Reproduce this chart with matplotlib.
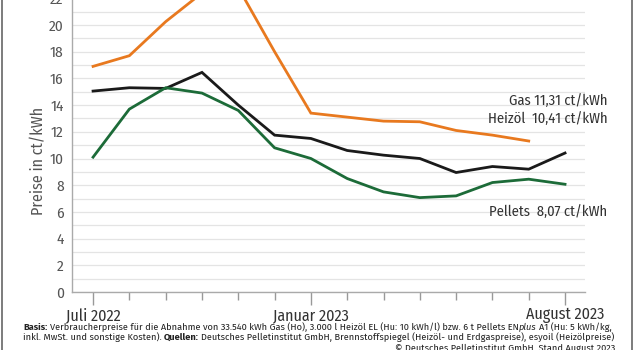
import matplotlib
matplotlib.use("Agg")
import matplotlib.pyplot as plt
from matplotlib import font_manager
from matplotlib.lines import Line2D
from matplotlib.ticker import FixedLocator, MultipleLocator, NullFormatter

# --- data (ct/kWh, monthly, Juli 2022 .. August 2023) ---
months = list(range(14))
tick_labels = {0: "Juli 2022", 6: "Januar 2023", 13: "August 2023"}

gas = [16.9, 17.7, 20.25, 22.4, 22.8, 18.0, 13.4, 13.1, 12.8, 12.75, 12.1, 11.75, 11.31]
heizoel = [15.05, 15.3, 15.25, 16.45, 14.0, 11.75, 11.5, 10.6, 10.25, 10.0, 8.95, 9.4, 9.2, 10.41]
pellets = [10.1, 13.7, 15.3, 14.9, 13.6, 10.8, 10.0, 8.5, 7.5, 7.07, 7.2, 8.2, 8.45, 8.07]

ORANGE = "#e8791f"
BLACK = "#1a1a1a"
GREEN = "#1c6b38"
TXT = "#333333"

installed = {f.name for f in font_manager.fontManager.ttflist}
FONT = next(f for f in ("Fira Sans Condensed", "Roboto Condensed", "Liberation Sans") if f in installed)
FOOT_FONT = next(f for f in ("Fira Sans", "Roboto", "Liberation Sans") if f in installed)
plt.rcParams["font.family"] = [FONT, "DejaVu Sans"]

W, H = 640, 350
fig = plt.figure(figsize=(W / 100, H / 100), dpi=100)

# axes placed in pixel terms: y=0 at 292 px from top, 13.35 px per unit
px_per_unit = 13.35
ymax = 22.3
ax_left, ax_right, ax_bottom = 72, 585, 292
ax = fig.add_axes([ax_left / W, (H - ax_bottom) / H,
                   (ax_right - ax_left) / W, ymax * px_per_unit / H])

ax.plot(months[:len(gas)], gas, color=ORANGE, lw=2.0, solid_joinstyle="miter", zorder=3)
ax.plot(months, heizoel, color=BLACK, lw=2.0, solid_joinstyle="miter", zorder=3)
ax.plot(months, pellets, color=GREEN, lw=2.0, solid_joinstyle="miter", zorder=3)

ax.set_xlim(-0.58, 13.55)
ax.set_ylim(0, ymax)

ax.yaxis.set_major_locator(MultipleLocator(2))
ax.yaxis.set_minor_locator(MultipleLocator(1))
ax.grid(axis="y", which="both", color="#e4e4e4", lw=0.9, zorder=0)
ax.tick_params(axis="y", which="both", length=0, labelsize=11, labelcolor="#555555", pad=6)

ax.xaxis.set_major_locator(FixedLocator(list(tick_labels.keys())))
ax.xaxis.set_minor_locator(FixedLocator([m for m in months if m not in tick_labels]))
ax.set_xticklabels(list(tick_labels.values()))
ax.xaxis.set_minor_formatter(NullFormatter())
ax.tick_params(axis="x", which="major", length=9, width=1.0, color="#999999",
               labelsize=11.5, labelcolor=TXT, pad=2)
ax.tick_params(axis="x", which="minor", length=6, width=1.0, color="#999999")

for side in ("top", "right"):
    ax.spines[side].set_visible(False)
for side in ("left", "bottom"):
    ax.spines[side].set_color("#aaaaaa")
    ax.spines[side].set_linewidth(1.0)

ax.set_ylabel("Preise in ct/kWh", fontsize=11.5, color="#555555")
ax.yaxis.set_label_coords(-0.05, 0.44)

# end labels
lab_kw = dict(ha="right", va="center", fontsize=10.5, color=TXT, clip_on=False)
ax.text(14.16, 14.3, "Gas 11,31 ct/kWh", **lab_kw)
ax.text(14.16, 12.95, "Heizöl  10,41 ct/kWh", **lab_kw)
ax.text(14.16, 6.0, "Pellets  8,07 ct/kWh", **lab_kw)

# frame lines at the image edges
fig.add_artist(Line2D([1.5 / W, 1.5 / W], [0, 1], transform=fig.transFigure, color="#666666", lw=1.2))
fig.add_artist(Line2D([632 / W, 632 / W], [0, 1], transform=fig.transFigure, color="#666666", lw=1.2))

# footer with mixed styles, fitted to the width
footer = [
    (327.5, [("Basis:", "bold", "normal"),
             (" Verbraucherpreise für die Abnahme von 33.540 kWh Gas (Ho), 3.000 l Heizöl EL (Hu: 10 kWh/l) bzw. 6 t Pellets EN", "normal", "normal"),
             ("plus", "normal", "italic"),
             (" A1 (Hu: 5 kWh/kg,", "normal", "normal")], "justify"),
    (337.5, [("inkl. MwSt. und sonstige Kosten).", "normal", "normal"),
             (" Quellen:", "bold", "normal"),
             (" Deutsches Pelletinstitut GmbH, Brennstoffspiegel (Heizöl- und Erdgaspreise), esyoil (Heizölpreise)", "normal", "normal")], "justify"),
    (348.0, [("© Deutsches Pelletinstitut GmbH, Stand August 2023", "normal", "normal")], "right"),
]
x0, x1 = 23, 615

fig.canvas.draw()
renderer = fig.canvas.get_renderer()


def seg_width(s, fs, weight, style):
    t = fig.text(0, 0, s, fontsize=fs, fontweight=weight, fontstyle=style, family=FOOT_FONT)
    w = t.get_window_extent(renderer).width
    t.remove()
    return w


def space_width(fs, weight, style):
    return seg_width("a a", fs, weight, style) - seg_width("aa", fs, weight, style)


def widths(segs, fs):
    out = []
    for s, wt, st in segs:
        core = s.strip()
        n_sp = len(s) - len(s.lstrip()) + len(s) - len(s.rstrip())
        out.append(seg_width(core, fs, wt, st) + n_sp * space_width(fs, wt, st))
    return out


base_fs = 7.0
line_fs = []
for y, segs, mode in footer:
    total = sum(widths(segs, base_fs))
    line_fs.append(base_fs * (x1 - x0) / total)
fs_foot = min(line_fs[:2])

for y, segs, mode in footer:
    ws = widths(segs, fs_foot)
    total = sum(ws)
    x = x1 - total if mode == "right" else x0
    for (s, wt, st), w in zip(segs, ws):
        lead = len(s) - len(s.lstrip())
        xs = x + lead * space_width(fs_foot, wt, st)
        fig.text(xs / W, 1 - y / H, s.strip(), fontsize=fs_foot, fontweight=wt,
                 fontstyle=st, family=FOOT_FONT, color="#222222", ha="left", va="center")
        x += w

fig.savefig("out.png", dpi=100)
